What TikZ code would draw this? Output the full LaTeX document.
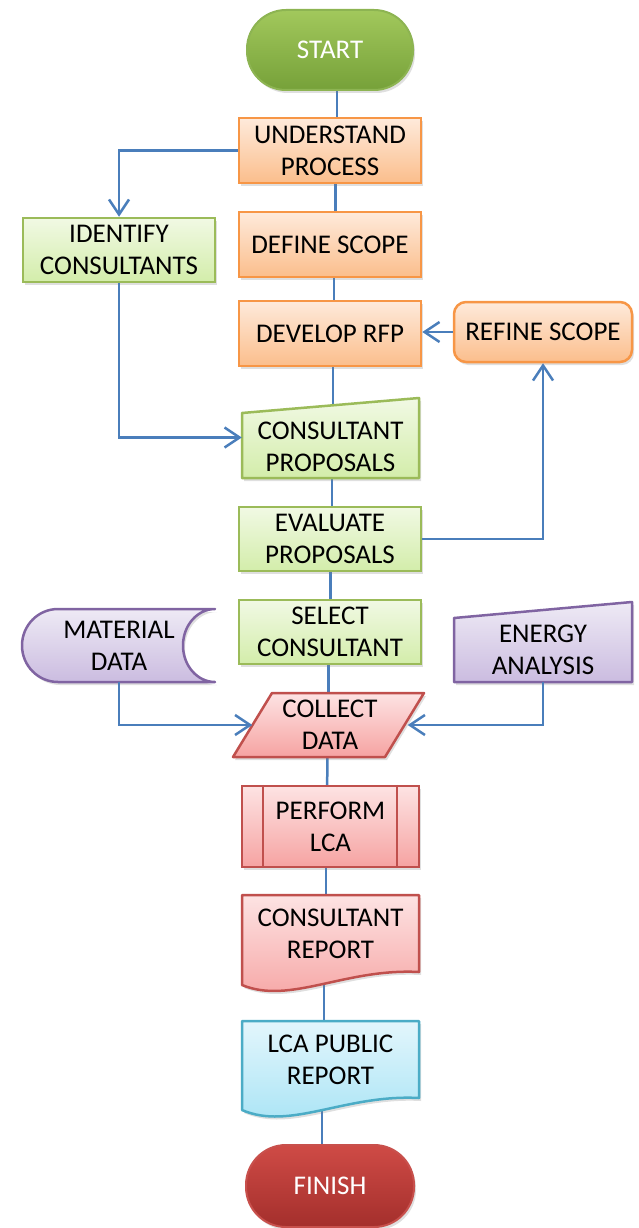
\documentclass[tikz,border=0pt]{standalone}
\usepackage{fontspec}
\setmainfont{Carlito}
\usetikzlibrary{arrows.meta,shadows,calc}
\definecolor{lineblue}{HTML}{4A7EBB}
\definecolor{orBorder}{HTML}{F79646}
\definecolor{orTop}{HTML}{FEEADB}
\definecolor{orBot}{HTML}{FBBE8C}
\definecolor{grBorder}{HTML}{9BBB59}
\definecolor{grTop}{HTML}{F1F9E4}
\definecolor{grBot}{HTML}{D3EDAA}
\definecolor{puBorder}{HTML}{8064A2}
\definecolor{puTop}{HTML}{EEEAF5}
\definecolor{puBot}{HTML}{CBBCE0}
\definecolor{reBorder}{HTML}{C0504D}
\definecolor{reTop}{HTML}{FDE3E3}
\definecolor{reBot}{HTML}{F6A3A2}
\definecolor{blBorder}{HTML}{4BACC6}
\definecolor{blTop}{HTML}{E3F6FC}
\definecolor{blBot}{HTML}{A6E3F5}
\definecolor{stTop}{HTML}{A2C85C}
\definecolor{stBot}{HTML}{76A139}
\definecolor{stBorder}{HTML}{8DB452}
\definecolor{fiTop}{HTML}{CF4B46}
\definecolor{fiBot}{HTML}{A42F2C}
\definecolor{fiBorder}{HTML}{C8504C}
\pgfdeclarelayer{bg}
\pgfdeclarelayer{shp}
\pgfsetlayers{bg,shp,main}
\begin{document}
\begin{tikzpicture}[x=1pt,y=-1pt,
  shad/.style={drop shadow={opacity=0.25,shadow xshift=2pt,shadow yshift=-3pt}},
  txt/.style={font=\fontsize{27}{32}\selectfont, align=center, inner sep=0pt, text=black},
  box/.style={txt, line width=2.5pt, shad, minimum width=182pt, minimum height=65pt},
  orangebox/.style={box, draw=orBorder, top color=orTop, bottom color=orBot},
  greenbox/.style={box, draw=grBorder, top color=grTop, bottom color=grBot},
  redbox/.style={box, draw=reBorder, top color=reTop, bottom color=reBot},
  term/.style={txt, text=white, line width=2pt, shad, minimum width=166pt, minimum height=80pt, rounded corners=39pt},
  plain/.style={txt},
  shapeline/.style={line width=2.5pt, line join=round, shad},
  link/.style={draw=lineblue, line width=2.5pt},
  arr/.style={link, -{Straight Barb[length=15pt,width=20pt]}}
]
\useasboundingbox (0,0) rectangle (638,1228);

% ---------- nodes ----------
\node[term, draw=stBorder, top color=stTop, bottom color=stBot] (start) at (330,50) {START};
\node[orangebox] (und) at (330,150.5) {UNDERSTAND\\PROCESS};
\node[greenbox, minimum width=192pt, minimum height=64pt] (idf) at (119,250) {IDENTIFY\\CONSULTANTS};
\node[orangebox] (def) at (330,244.5) {DEFINE SCOPE};
\node[orangebox] (dev) at (330,333.5) {DEVELOP RFP};
\node[orangebox, minimum width=178pt, minimum height=60pt, rounded corners=12pt] (ref) at (543,332) {REFINE SCOPE};
\node[plain, minimum width=177pt, minimum height=65pt] (cp) at (330.5,446.5) {CONSULTANT\\PROPOSALS};
\node[greenbox, minimum height=64pt] (eval) at (330,539) {EVALUATE\\PROPOSALS};
\node[greenbox, minimum height=64pt] (sel) at (330,632) {SELECT\\CONSULTANT};
\node[plain, minimum width=193pt, minimum height=73pt] (mat) at (119,645.5) {MATERIAL\\DATA};
\node[plain, minimum width=178pt, minimum height=64pt] (energy) at (543,650) {ENERGY\\ANALYSIS};
\node[plain, minimum width=152pt, minimum height=64pt] (col) at (328.5,725) {\hspace*{3pt}COLLECT\\\hspace*{3pt}DATA};
\node[redbox, minimum width=177pt, minimum height=81pt] (perf) at (330.5,826.5) {PERFORM\\LCA};
\node[plain, minimum width=177pt, minimum height=64pt] (rep) at (330.5,934) {CONSULTANT\\REPORT};
\node[plain, minimum width=177pt, minimum height=64pt] (pub) at (330.5,1060) {LCA PUBLIC\\REPORT};
\node[term, draw=fiBorder, top color=fiTop, bottom color=fiBot, minimum width=168pt, minimum height=82pt, rounded corners=40pt] (fin) at (330,1186) {FINISH};

% predefined process inner lines
\draw[reBorder, line width=2pt] ([xshift=22pt]perf.north west) -- ([xshift=22pt]perf.south west);
\draw[reBorder, line width=2pt] ([xshift=-23pt]perf.north east) -- ([xshift=-23pt]perf.south east);

% ---------- non-rectangular shapes ----------
\begin{pgfonlayer}{shp}
\path[shapeline, draw=grBorder, top color=grTop, bottom color=grBot]
  (242,413) -- (419,398) -- (419,478) -- (242,478) -- cycle;
\path[shapeline, draw=puBorder, top color=puTop, bottom color=puBot]
  (454,618) -- (632,602) -- (632,682) -- (454,682) -- cycle;
\path[shapeline, draw=puBorder, top color=puTop, bottom color=puBot]
  (58,682) arc[start angle=270, end angle=90, x radius=36pt, y radius=36.5pt]
  -- (215,609) arc[start angle=90, end angle=270, x radius=32pt, y radius=36.5pt]
  -- cycle;
\path[shapeline, draw=reBorder, top color=reTop, bottom color=reBot]
  (272,693) -- (424,693) -- (385,757) -- (233,757) -- cycle;
\path[shapeline, draw=reBorder, top color=reTop, bottom color=reBot]
  (242,895) -- (419,895) -- (419,972) .. controls (345,968) and (290,1005) .. (242,985) -- cycle;
\path[shapeline, draw=blBorder, top color=blTop, bottom color=blBot]
  (242,1021) -- (419,1021) -- (419,1098) .. controls (345,1094) and (290,1131) .. (242,1110) -- cycle;
\end{pgfonlayer}

% ---------- main chain (behind shapes) ----------
\begin{pgfonlayer}{bg}
\draw[link] ([xshift=7pt]start.center) -- ([xshift=7pt]und.center);
\draw[link] ([xshift=5.5pt]und.center) -- ([xshift=5.5pt]def.center);
\draw[link] ([xshift=4pt]def.center) -- ([xshift=4pt]dev.center);
\draw[link] ([xshift=3pt]dev.center) -- ([xshift=2.5pt]cp.center);
\draw[link] ([xshift=1.5pt]cp.center) -- ([xshift=2pt]eval.center);
\draw[link] ([xshift=0.5pt]eval.center) -- ([xshift=0.5pt]sel.center);
\draw[link] ([xshift=-1.5pt]sel.center) -- ([xshift=0pt]col.center);
\draw[link] ([xshift=-1pt]col.center) -- ([xshift=-3.5pt]perf.center);
\draw[link] ([xshift=-4.5pt]perf.center) -- ([xshift=-4.5pt]rep.center);
\draw[link] ([xshift=-6.5pt]rep.center) -- ([xshift=-6.5pt]pub.center);
\draw[link] ([xshift=-8.5pt]pub.center) -- ([xshift=-8pt]fin.center);
\end{pgfonlayer}

% ---------- arrows ----------
\draw[arr] (und.west) -| (idf.north);
\draw[arr] (idf.south) |- ([yshift=9pt]cp.west);
\draw[arr] (ref.west) -- (ref.west -| dev.east);
\draw[arr] (eval.east) -| (ref.south);
\draw[arr] (mat.south) |- (col.west);
\draw[arr] (energy.south) |- ([xshift=3pt]col.east);
\end{tikzpicture}
\end{document}
